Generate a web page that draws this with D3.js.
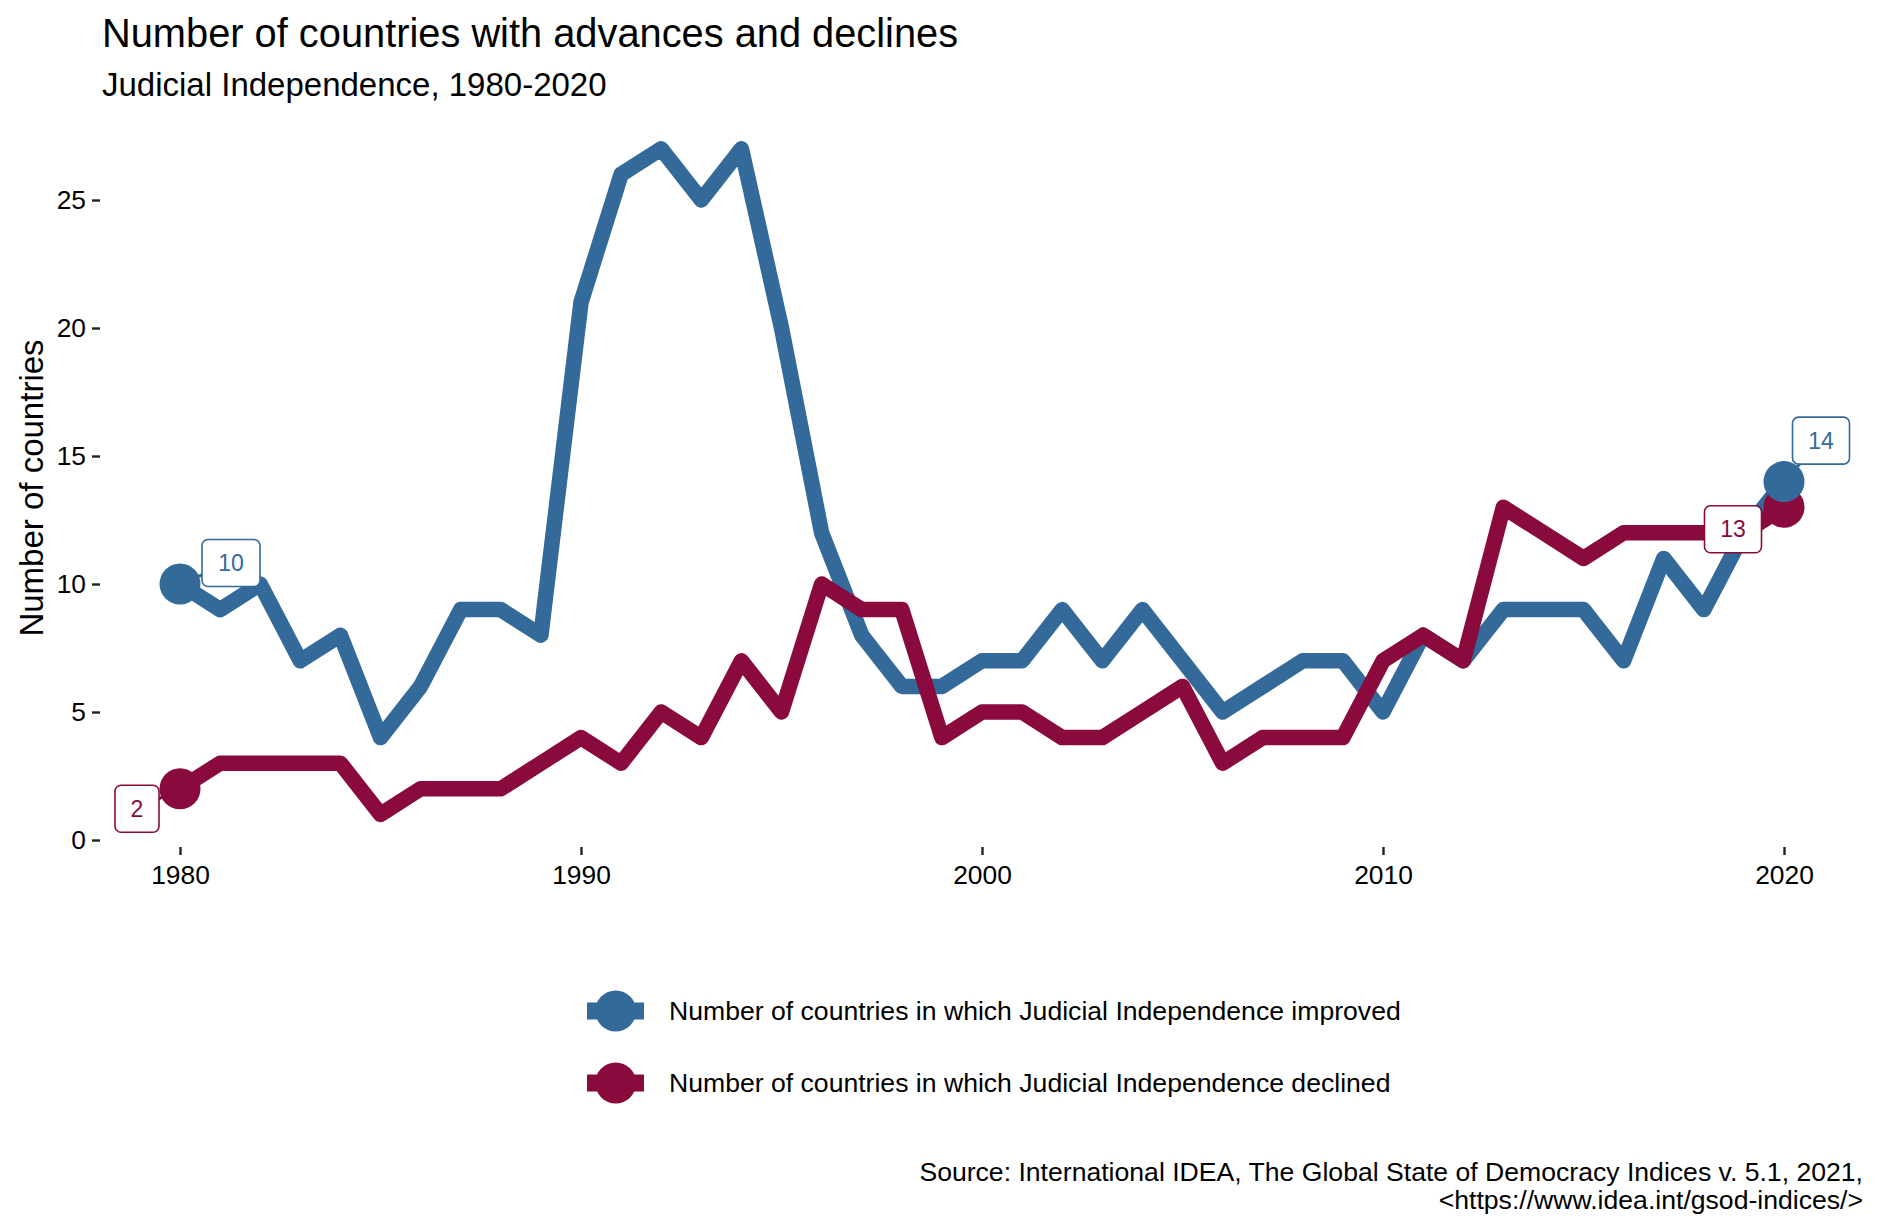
<!DOCTYPE html>
<html><head><meta charset="utf-8">
<script src="https://cdn.jsdelivr.net/npm/d3@7/dist/d3.min.js"></script>
<style>
html,body{margin:0;padding:0;background:#fff;}
svg{display:block;font-family:"Liberation Sans",Arial,Helvetica,sans-serif;}
</style></head><body>
<svg id="chart" width="1881" height="1222"></svg>
<script>
// ---- data ----
const years = [1980,1981,1982,1983,1984,1985,1986,1987,1988,1989,
               1990,1991,1992,1993,1994,1995,1996,1997,1998,1999,
               2000,2001,2002,2003,2004,2005,2006,2007,2008,2009,
               2010,2011,2012,2013,2014,2015,2016,2017,2018,2019,2020];
const improved = [10,9,10,7,8,4,6,9,9,8,
                  21,26,27,25,27,20,12,8,6,6,
                  7,7,9,7,9,7,5,6,7,7,
                  5,8,7,9,9,9,7,11,9,12,
                  14];
const declined = [2,3,3,3,3,1,2,2,2,3,
                  4,3,5,4,7,5,10,9,9,4,
                  5,5,4,4,5,6,3,4,4,4,
                  7,8,7,13,12,11,12,12,12,12,
                  13];
const seriesNames = ["Number of countries in which Judicial Independence improved",
                     "Number of countries in which Judicial Independence declined"];
const xTicks = [1980,1990,2000,2010,2020];
const yTicks = [0,5,10,15,20,25];
const titleText = "Number of countries with advances and declines";
const subtitleText = "Judicial Independence, 1980-2020";
const yLabel = "Number of countries";
const sourceLines = ["Source: International IDEA, The Global State of Democracy Indices v. 5.1, 2021,",
                     "<https://www.idea.int/gsod-indices/>"];

// ---- styles ----
const colors = ["#336a99", "#8a0a3e"];
const svg = d3.select("#chart");
const x = d3.scaleLinear().domain([1980, 2020]).range([180, 1784]);
const y = d3.scaleLinear().domain([0, 25]).range([840, 200]);

const series = [
  {name: seriesNames[0], values: improved, color: colors[0]},
  {name: seriesNames[1], values: declined, color: colors[1]}
];

// titles
svg.append("text").attr("x", 102).attr("y", 47).attr("font-size", 39.8).attr("fill", "#000").text(titleText);
svg.append("text").attr("x", 102).attr("y", 96).attr("font-size", 33).attr("fill", "#000").text(subtitleText);

// y axis label
svg.append("text").attr("transform", "translate(43,488) rotate(-90)")
  .attr("text-anchor", "middle").attr("font-size", 33).attr("fill", "#000").text(yLabel);

// axes
const yAxis = svg.append("g").attr("transform", "translate(100,0)")
  .call(d3.axisLeft(y).tickValues(yTicks).tickSize(8).tickPadding(6));
const xAxis = svg.append("g").attr("transform", "translate(0,847)")
  .call(d3.axisBottom(x).tickValues(xTicks).tickFormat(d3.format("d")).tickSize(8).tickPadding(10));
[yAxis, xAxis].forEach(a => {
  a.select(".domain").remove();
  a.selectAll(".tick line").attr("stroke", "#222").attr("stroke-width", 2.4);
  a.selectAll(".tick text").attr("font-size", 26.4).attr("fill", "#000")
    .attr("font-family", "\"Liberation Sans\",Arial,Helvetica,sans-serif");
});

// lines
const line = d3.line().x((d, i) => x(years[i])).y(d => y(d));
series.forEach(s => {
  svg.append("path").attr("d", line(s.values)).attr("fill", "none")
    .attr("stroke", s.color).attr("stroke-width", 15.5)
    .attr("stroke-linejoin", "round").attr("stroke-linecap", "butt");
});

// label definitions (first & last values), offsets are layout constants
const labelDefs = [
  {s: 0, i: 0, dx: 51, dy: -21, w: 58},
  {s: 1, i: 0, dx: -43, dy: 20, w: 44},
  {s: 1, i: years.length - 1, dx: -51, dy: 22, w: 57},
  {s: 0, i: years.length - 1, dx: 37, dy: -41, w: 57}
];
const boxH = 47;

// connector segments (under dots & boxes)
labelDefs.forEach(l => {
  const s = series[l.s];
  const px = x(years[l.i]), py = y(s.values[l.i]);
  svg.append("line").attr("x1", px).attr("y1", py)
    .attr("x2", px + l.dx).attr("y2", py + l.dy)
    .attr("stroke", s.color).attr("stroke-width", 3);
});

// end points: declined first, improved on top
[1, 0].forEach(si => {
  const s = series[si];
  [0, years.length - 1].forEach(i => {
    svg.append("circle").attr("cx", x(years[i])).attr("cy", y(s.values[i]))
      .attr("r", 20.5).attr("fill", s.color);
  });
});

// labels
labelDefs.forEach(l => {
  const s = series[l.s];
  const cx = x(years[l.i]) + l.dx, cy = y(s.values[l.i]) + l.dy;
  svg.append("rect").attr("x", cx - l.w / 2).attr("y", cy - boxH / 2)
    .attr("width", l.w).attr("height", boxH).attr("rx", 6).attr("ry", 6)
    .attr("fill", "#fff").attr("stroke", s.color).attr("stroke-width", 1.6);
  svg.append("text").attr("x", cx).attr("y", cy).attr("dy", "0.36em")
    .attr("text-anchor", "middle").attr("font-size", 23).attr("fill", s.color)
    .text(s.values[l.i]);
});

// legend
const legendY = [1011, 1083];
series.forEach((s, k) => {
  const g = svg.append("g").attr("transform", `translate(0,${legendY[k]})`);
  g.append("rect").attr("x", 587).attr("y", -8.5).attr("width", 57).attr("height", 17).attr("fill", s.color);
  g.append("circle").attr("cx", 615.7).attr("cy", 0).attr("r", 20.5).attr("fill", s.color);
  g.append("text").attr("x", 669).attr("y", 0).attr("dy", "0.35em")
    .attr("font-size", 26.6).attr("fill", "#000").text(s.name);
});

// source caption
sourceLines.forEach((t, k) => {
  svg.append("text").attr("x", 1863).attr("y", 1181 + k * 28).attr("text-anchor", "end")
    .attr("font-size", 26.6).attr("fill", "#000").text(t);
});
</script>
</body></html>
